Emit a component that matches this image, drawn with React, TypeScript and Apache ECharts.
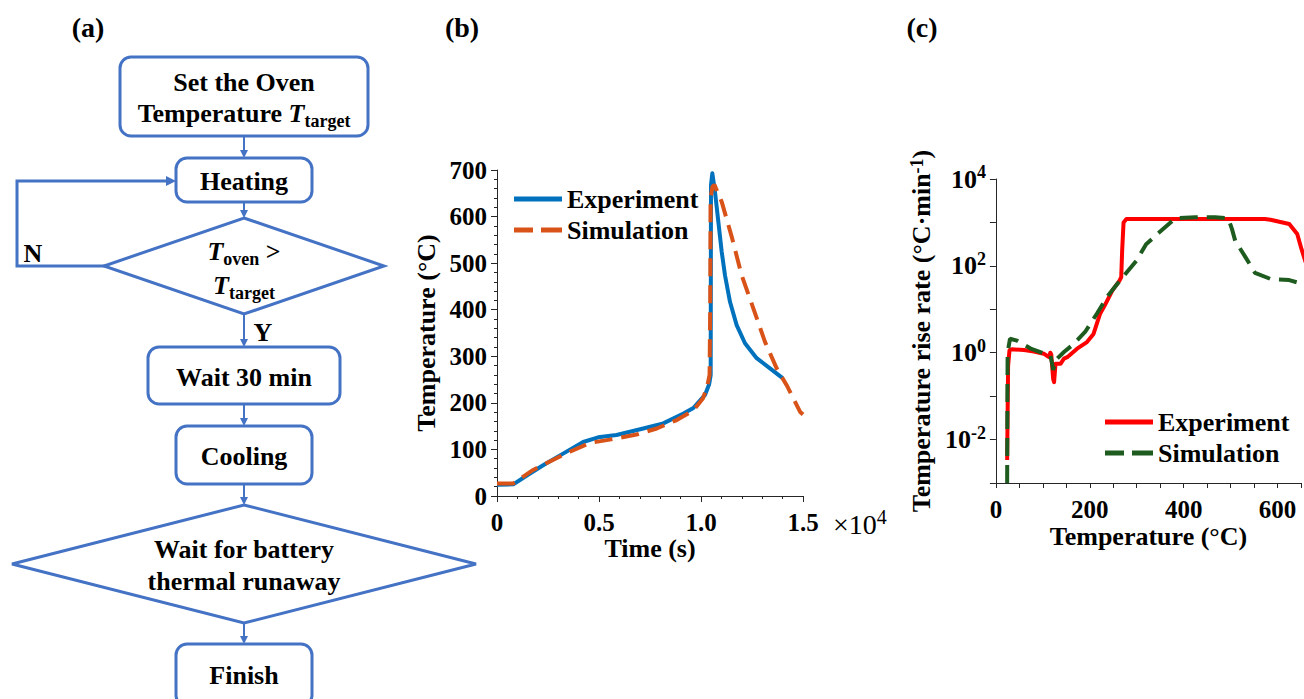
import React, { useEffect, useRef } from "react";
import * as echarts from "echarts";

const serif = "Liberation Serif, Times New Roman, Times, serif";
const flowBlue = "#4472C4";
const axisColor = "#262626";

// ---------- Panel (b): temperature vs time ----------
const bExpTime = [0, 800, 1500, 2260, 3240, 4225, 4960, 5860, 7170, 8150, 9140, 9624, 10196, 10400, 10475, 10490, 10555, 10686, 10850, 11013, 11176, 11421, 11748, 12157, 12729, 13382, 14000];
const bExpTemp = [24, 25, 45, 66, 91, 116, 126, 131, 145, 156, 177, 189, 217, 240, 260, 668, 693, 653, 589, 525, 474, 417, 367, 328, 296, 274, 253];
const bSimTime = [0, 800, 1770, 2590, 3570, 4550, 5530, 6840, 7830, 8810, 9630, 10100, 10300, 10420, 10450, 10470, 10560, 10660, 11013, 11503, 11993, 12565, 13137, 13710, 14200, 14853, 15000];
const bSimTemp = [27, 27, 56, 74, 95, 114, 121, 132, 145, 163, 184, 210, 235, 260, 400, 640, 664, 668, 632, 557, 474, 403, 331, 274, 238, 181, 175];

// ---------- Panel (c): rise rate vs temperature ----------
const cExpT = [24, 26, 29, 34, 60, 81, 102, 113, 116, 118, 120, 122, 124, 127, 138, 145, 152, 173, 194, 208, 222, 232, 248, 263, 267, 269, 272, 278, 350, 450, 573, 585, 625, 642, 651, 660];
const cExpRate = [0.0034, 0.5, 1.15, 1.2, 1.15, 1.07, 0.95, 0.79, 1.0, 0.9, 0.47, 0.25, 0.21, 0.56, 0.56, 0.73, 0.79, 1.24, 1.76, 2.7, 7.9, 12.3, 27, 45, 55, 225, 1000, 1200, 1200, 1200, 1200, 1150, 920, 540, 245, 120];
const cSimT = [24, 24.5, 25, 30, 45, 74, 102, 116, 120, 122, 127, 145, 166, 190, 215, 239, 269, 299, 320, 347, 383, 425, 467, 495, 503, 510, 530, 552, 585, 625, 651, 660];
const cSimRate = [0.001, 0.1, 1.0, 2.1, 1.9, 1.25, 0.97, 0.87, 0.55, 0.4, 0.67, 1.04, 1.6, 3.0, 7.9, 20.8, 53, 130, 316, 575, 1260, 1320, 1320, 1250, 700, 372, 170, 69, 50, 47, 39, 37];

const zip = (a: number[], b: number[]) => a.map((v, i) => [v, b[i]]);

const FS = 26;
const baseFont = { fontFamily: serif, fontWeight: "bold" as const, fontSize: FS, fill: "#000" };
const richFlow = {
  n: { fontFamily: serif, fontWeight: "bold", fontSize: FS, lineHeight: 34, color: "#000" },
  i: { fontFamily: serif, fontWeight: "bold", fontStyle: "italic", fontSize: FS, lineHeight: 34, color: "#000" },
  sub: { fontFamily: serif, fontWeight: "bold", fontSize: 18, lineHeight: 18, verticalAlign: "bottom", color: "#000" },
};

function txt(text: string, x: number, y: number, rich = false, extra: any = {}) {
  const style: any = {
    text,
    ...baseFont,
    align: "center",
    verticalAlign: "middle",
    textAlign: "center",
    textVerticalAlign: "middle",
    ...extra,
  };
  if (rich) style.rich = richFlow;
  return { type: "text", x, y, style, z: 10 };
}
function box(x: number, y: number, w: number, h: number) {
  return {
    type: "rect",
    shape: { x, y, width: w, height: h, r: 11 },
    style: { fill: "#fff", stroke: flowBlue, lineWidth: 3 },
  };
}
function diamond(cx: number, top: number, halfW: number, bottom: number) {
  const mid = (top + bottom) / 2;
  return {
    type: "polygon",
    shape: { points: [[cx, top], [cx + halfW, mid], [cx, bottom], [cx - halfW, mid]] },
    style: { fill: "#fff", stroke: flowBlue, lineWidth: 3 },
  };
}
function arrowDown(x: number, y1: number, y2: number) {
  return [
    { type: "line", shape: { x1: x, y1, x2: x, y2: y2 - 6 }, style: { stroke: flowBlue, lineWidth: 2 } },
    { type: "polygon", shape: { points: [[x - 4, y2 - 8], [x + 4, y2 - 8], [x, y2]] }, style: { fill: flowBlue } },
  ];
}

function flowchart() {
  const cx = 244;
  const els: any[] = [];
  els.push(txt("(a)", 88, 27, false, { fontSize: 28 }));
  els.push(txt("(b)", 462, 27, false, { fontSize: 28 }));
  els.push(box(120, 57, 248, 79));
  els.push(txt("Set the Oven", cx, 82));
  els.push(txt("{n|Temperature }{i|T}{sub|target}", cx, 113, true));
  els.push(...arrowDown(cx, 137, 158));
  els.push(box(176, 158, 136, 44));
  els.push(txt("Heating", cx, 181));
  els.push(...arrowDown(cx, 202, 218));
  els.push(diamond(cx, 218, 140, 314));
  els.push(txt("{i|T}{sub|oven}{n| >}", cx, 251, true));
  els.push(txt("{i|T}{sub|target}", cx, 285, true));
  els.push({
    type: "polyline",
    shape: { points: [[105, 266], [17, 266], [17, 181], [168, 181]] },
    style: { stroke: flowBlue, lineWidth: 3, fill: null },
  });
  els.push({ type: "polygon", shape: { points: [[166, 176], [166, 186], [176, 181]] }, style: { fill: flowBlue } });
  els.push(txt("N", 33, 253));
  els.push(...arrowDown(cx, 314, 347));
  els.push(txt("Y", 263, 332));
  els.push(box(148, 347, 192, 57));
  els.push(txt("Wait 30 min", cx, 377));
  els.push(...arrowDown(cx, 404, 426));
  els.push(box(176, 426, 136, 58));
  els.push(txt("Cooling", cx, 456));
  els.push(...arrowDown(cx, 484, 505));
  els.push(diamond(cx, 505, 232, 623));
  els.push(txt("Wait for battery", cx, 549));
  els.push(txt("thermal runaway", cx, 581));
  els.push(...arrowDown(cx, 623, 644));
  els.push(box(176, 644, 136, 62));
  els.push(txt("Finish", cx, 675));
  // x10^4 multiplier for panel (b)
  els.push({
    type: "text",
    x: 833,
    y: 524,
    style: {
      text: "{r|×10}{sup|4}",
      align: "left",
      verticalAlign: "middle",
      textAlign: "left",
      textVerticalAlign: "middle",
      rich: {
        r: { fontFamily: serif, fontSize: 28, lineHeight: 34, color: "#000" },
        sup: { fontFamily: serif, fontSize: 20, lineHeight: 20, verticalAlign: "top", color: "#000" },
      },
    },
  });
  return els;
}

const tickFont = { fontFamily: serif, fontWeight: "bold" as const, fontSize: 25, color: "#000" };
const nameFont = { fontFamily: serif, fontWeight: "bold" as const, fontSize: 26, color: "#000" };

const dashIcon = "path://M0,0L19,0L19,5L0,5Z M27,0L48,0L48,5L27,5Z";

export default function App() {
  const ref1 = useRef<HTMLDivElement>(null);
  const ref2 = useRef<HTMLDivElement>(null);

  useEffect(() => {
    const c1 = echarts.init(ref1.current!, undefined, { renderer: "svg" });
    const c2 = echarts.init(ref2.current!, undefined, { renderer: "svg" });

    const tickStyle = { lineStyle: { color: axisColor, width: 1 } };
    const legendBase = {
      orient: "vertical",
      padding: 0,
      itemWidth: 48,
      itemHeight: 5,
      itemGap: 5,
      symbolKeepAspect: false,
      selectedMode: false,
      textStyle: { ...nameFont, lineHeight: 26 },
    };

    c1.setOption({
      animation: false,
      graphic: { elements: flowchart() },
      legend: {
        ...legendBase,
        left: 514,
        top: 186,
        data: [
          { name: "Experiment", icon: "rect" },
          { name: "Simulation", icon: dashIcon, itemStyle: { color: "#D95319", borderWidth: 0 } },
        ],
      },
      grid: { left: 497, top: 170, width: 306, height: 326 },
      xAxis: {
        type: "value",
        min: 0,
        max: 15000,
        interval: 5000,
        axisLine: { lineStyle: { color: axisColor, width: 1 } },
        axisTick: { length: 6, ...tickStyle },
        minorTick: { show: true, splitNumber: 5, length: 3, ...tickStyle },
        splitLine: { show: false },
        axisLabel: {
          ...tickFont,
          margin: 14,
          formatter: (v: number) => (v === 0 ? "0" : (v / 10000).toFixed(1)),
        },
        name: "Time (s)",
        nameLocation: "middle",
        nameGap: 39,
        nameTextStyle: nameFont,
      },
      yAxis: {
        type: "value",
        min: 0,
        max: 700,
        interval: 100,
        axisLine: { show: true, lineStyle: { color: axisColor, width: 1 } },
        axisTick: { show: true, length: 6, ...tickStyle },
        minorTick: { show: true, splitNumber: 5, length: 3, ...tickStyle },
        splitLine: { show: false },
        axisLabel: { ...tickFont, margin: 10 },
        name: "Temperature (°C)",
        nameLocation: "middle",
        nameGap: 58,
        nameRotate: 90,
        nameTextStyle: nameFont,
      },
      series: [
        {
          name: "Experiment",
          type: "line",
          data: zip(bExpTime, bExpTemp),
          symbol: "none",
          showSymbol: false,
          lineStyle: { color: "#0072BD", width: 4, join: "round" },
          itemStyle: { color: "#0072BD" },
        },
        {
          name: "Simulation",
          type: "line",
          data: zip(bSimTime, bSimTemp),
          symbol: "none",
          showSymbol: false,
          lineStyle: { color: "#D95319", width: 4, type: [18, 9] },
          itemStyle: { color: "#D95319" },
        },
      ],
    });

    const supStyle = { fontFamily: serif, fontWeight: "bold", fontSize: 18, lineHeight: 18, verticalAlign: "top", color: "#000" };

    c2.setOption({
      animation: false,
      graphic: {
        elements: [
          {
            type: "text",
            x: 22,
            y: 27,
            style: { text: "(c)", ...baseFont, fontSize: 28, align: "center", verticalAlign: "middle", textAlign: "center", textVerticalAlign: "middle" },
          },
        ],
      },
      legend: {
        ...legendBase,
        left: 205,
        top: 409,
        data: [
          { name: "Experiment", icon: "rect" },
          { name: "Simulation", icon: dashIcon, itemStyle: { color: "#1E5B1E", borderWidth: 0 } },
        ],
      },
      grid: { left: 95, top: 179, width: 309, height: 304 },
      xAxis: {
        type: "value",
        min: 0,
        max: 650,
        interval: 50,
        axisLine: { lineStyle: { color: axisColor, width: 1 } },
        axisTick: { length: 5, ...tickStyle },
        splitLine: { show: false },
        axisLabel: {
          ...tickFont,
          margin: 14,
          formatter: (v: number) => (v % 200 === 0 ? String(v) : ""),
        },
        name: "Temperature (°C)",
        nameLocation: "middle",
        nameGap: 40,
        nameTextStyle: nameFont,
      },
      yAxis: {
        type: "log",
        logBase: 10,
        min: 0.001,
        max: 10000,
        axisLine: { show: true, lineStyle: { color: axisColor, width: 1 } },
        axisTick: { show: true, length: 6, ...tickStyle },
        splitLine: { show: false },
        axisLabel: {
          margin: 10,
          formatter: (v: number) => {
            const e = Math.round(Math.log10(v));
            if (e % 2 !== 0) return "";
            return `{b|10}{sup|${e}}`;
          },
          rich: {
            b: { fontFamily: serif, fontWeight: "bold", fontSize: 26, lineHeight: 32, color: "#000" },
            sup: supStyle,
          },
        },
        name: "Temperature rise rate (°C·min{sup|-1})",
        nameLocation: "middle",
        nameGap: 56,
        nameRotate: 90,
        nameTextStyle: { ...nameFont, rich: { sup: supStyle } },
      },
      series: [
        {
          name: "Experiment",
          type: "line",
          data: zip(cExpT, cExpRate),
          symbol: "none",
          showSymbol: false,
          lineStyle: { color: "#FF0000", width: 4, join: "round" },
          itemStyle: { color: "#FF0000" },
        },
        {
          name: "Simulation",
          type: "line",
          data: zip(cSimT, cSimRate),
          symbol: "none",
          showSymbol: false,
          lineStyle: { color: "#1E5B1E", width: 4, type: [18, 9] },
          itemStyle: { color: "#1E5B1E" },
        },
      ],
    });

    return () => {
      c1.dispose();
      c2.dispose();
    };
  }, []);

  return (
    <div style={{ position: "absolute", left: 0, top: 0, width: 1304, height: 699, overflow: "hidden", background: "#fff" }}>
      <div ref={ref1} style={{ position: "absolute", left: 0, top: 0, width: 900, height: 699 }} />
      <div ref={ref2} style={{ position: "absolute", left: 900, top: 0, width: 404, height: 699 }} />
    </div>
  );
}
